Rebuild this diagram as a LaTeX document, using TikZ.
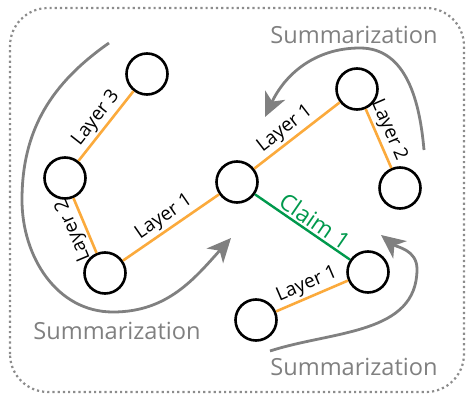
\documentclass[tikz,border=0pt]{standalone}
\usepackage{fontspec}
\setmainfont{Open Sans}
\usetikzlibrary{arrows.meta}
\definecolor{sumGray}{HTML}{808080}
\definecolor{frameGray}{HTML}{8C8C8C}
\definecolor{layerOrange}{HTML}{FBAA3C}
\definecolor{claimGreen}{HTML}{00994C}

\begin{document}
\begin{tikzpicture}[x=1pt,y=1pt,
  ent/.style={circle,draw=black,line width=2.6pt,fill=white,minimum size=41pt,inner sep=0pt},
  layer/.style={draw=layerOrange,line width=2.6pt},
  claim/.style={draw=claimGreen,line width=2.4pt},
  lbl/.style={font=\fontsize{19}{22}\selectfont,inner sep=2pt},
  summ/.style={draw=sumGray,line width=2.8pt,-{Stealth[length=24pt,width=22pt,inset=7pt]}},
  sumtxt/.style={text=sumGray,font=\fontsize{23.6}{27}\selectfont,inner sep=1pt}]
\useasboundingbox (0,0) rectangle (470,394);
% --- frame ---
\draw[frameGray,line width=2.2pt,dash pattern=on 2.2pt off 3pt,rounded corners=38pt] (10,2) rectangle (464,386);
% --- summarization arrows ---
\coordinate (sLa) at (109,351); \coordinate (sLb) at (231,156);
\coordinate (sTa) at (424,244); \coordinate (sTb) at (265,277);
\coordinate (sBa) at (270,43);  \coordinate (sBb) at (381,159);
\draw[summ] (sLa) to[out=215,in=90] (22,194) to[out=270,in=180] (113,82) to[out=0,in=228] (sLb);
\draw[summ] (sTa) to[out=95,in=0] (360,346) to[out=180,in=65] (sTb);
\draw[summ] (sBa) to[out=18,in=270] (417,125) to[out=90,in=322] (sBb);
\node[sumtxt] (sumL) at (117,63) {Summarization};
\node[sumtxt] (sumT) at (354,359) {Summarization};
\node[sumtxt] (sumB) at (354,27) {Summarization};
% --- entities ---
\node[ent] (A) at (147,320) {};
\node[ent] (B) at (65,216) {};
\node[ent] (C) at (105,121) {};
\node[ent] (D) at (237,212) {};
\node[ent] (E) at (357,305) {};
\node[ent] (F) at (400,206) {};
\node[ent] (G) at (368,122) {};
\node[ent] (H) at (256,74) {};
% --- relations ---
\draw[layer] (B) -- node[lbl,sloped,above] {Layer 3} (A);
\draw[layer] (C) -- node[lbl,sloped,allow upside down,above] {Layer 2} (B);
\draw[layer] (C) -- node[lbl,sloped,above] {Layer 1} (D);
\draw[layer] (D) -- node[lbl,sloped,above,pos=.45] {Layer 1} (E);
\draw[layer] (E) -- node[lbl,sloped,above,pos=.45] {Layer 2} (F);
\draw[layer] (H) -- node[lbl,sloped,above] {Layer 1} (G);
\draw[claim] (D) -- node[lbl,sloped,above,pos=.56,text=claimGreen,font=\fontsize{23}{26}\selectfont] {Claim 1} (G);
\end{tikzpicture}
\end{document}
